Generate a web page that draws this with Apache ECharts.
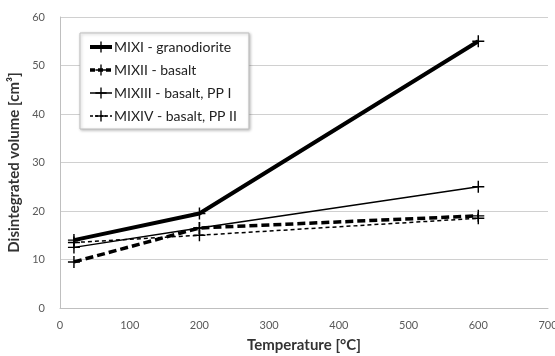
<!DOCTYPE html>
<html>
<head>
<meta charset="utf-8">
<script src="https://cdn.jsdelivr.net/npm/echarts@6/dist/echarts.min.js"></script>
<style>html,body{margin:0;padding:0;background:#fff}#c{width:555px;height:356px}</style>
</head>
<body>
<div id="c"></div>
<script>
const temperatures = [20, 200, 600];
const mix1 = [14, 19.5, 55];
const mix2 = [9.5, 16.5, 19];
const mix3 = [12.5, 16.5, 25];
const mix4 = [13.5, 15, 18.5];
const seriesNames = ['MIXI - granodiorite', 'MIXII - basalt', 'MIXIII - basalt, PP I', 'MIXIV - basalt, PP II'];
const xTicks = [0, 100, 200, 300, 400, 500, 600, 700];
const yTicks = [0, 10, 20, 30, 40, 50, 60];

const plus = 'path://M4.4,0h1.2v4.4h4.4v1.2h-4.4v4.4h-1.2v-4.4h-4.4v-1.2h4.4z';
const FONT = 'Lato';
const styles = [
  {width:4, type:'solid'},
  {width:3.5, type:[8,4]},
  {width:1.5, type:'solid'},
  {width:1.5, type:[4,3]}
];
function pts(arr){ return temperatures.map((t,i)=>[t, arr[i]]); }
function mk(i, data){
  return {
    name: seriesNames[i], type:'line', data: pts(data),
    symbol: plus, symbolSize: 12,
    itemStyle:{color:'#000'},
    lineStyle:{color:'#000', width:styles[i].width, type:styles[i].type},
    animation:false, z: 3
  };
}
const chart = echarts.init(document.getElementById('c'), null, {renderer:'canvas'});
chart.setOption({
  backgroundColor:'#fff',
  animation:false,
  grid:{left:60, right:7, top:17, bottom:48, outerBoundsMode:'none'},
  legend:{
    orient:'vertical', left:80, top:33,
    padding:[7,12,6,8],
    itemGap:9, itemWidth:22, itemHeight:14,
    backgroundColor:'#fff', borderColor:'#bfbfbf', borderWidth:1,
    shadowColor:'rgba(0,0,0,0.25)', shadowBlur:3, shadowOffsetX:1, shadowOffsetY:1,
    textStyle:{fontFamily:FONT, fontSize:14, color:'#222', padding:[0,0,0,-3]},
    data: seriesNames.map((n,i)=>({name:n, lineStyle:{color:'#000', width:styles[i].width, type: i===1?[5,3]:(i===3?[3,2]:'solid')}}))
  },
  xAxis:{
    type:'value', min:0, max:700, interval:100,
    name:'Temperature [°C]', nameLocation:'middle', nameGap:30,
    nameTextStyle:{fontFamily:FONT, fontSize:15, fontWeight:'bold', color:'#333'},
    axisLine:{show:true, lineStyle:{color:'#bfbfbf', width:1}},
    axisTick:{show:false},
    axisLabel:{fontFamily:FONT, fontSize:11, color:'#595959', margin:12,
      formatter: v => xTicks.includes(v) ? String(v) : ''},
    splitLine:{show:false}
  },
  yAxis:{
    type:'value', min:0, max:60, interval:10,
    name:'Disintegrated volume [cm³]', nameLocation:'middle', nameGap:33,
    nameTextStyle:{fontFamily:FONT, fontSize:15, fontWeight:'bold', color:'#333'},
    axisLine:{show:true, lineStyle:{color:'#bfbfbf', width:1}},
    axisTick:{show:false},
    axisLabel:{fontFamily:FONT, fontSize:11, color:'#595959', margin:15,
      formatter: v => yTicks.includes(v) ? String(v) : ''},
    splitLine:{show:true, lineStyle:{color:'#d0d0d0', width:1}}
  },
  series:[
    mk(0, mix1),
    mk(1, mix2),
    mk(2, mix3),
    mk(3, mix4)
  ]
});
</script>
</body>
</html>
